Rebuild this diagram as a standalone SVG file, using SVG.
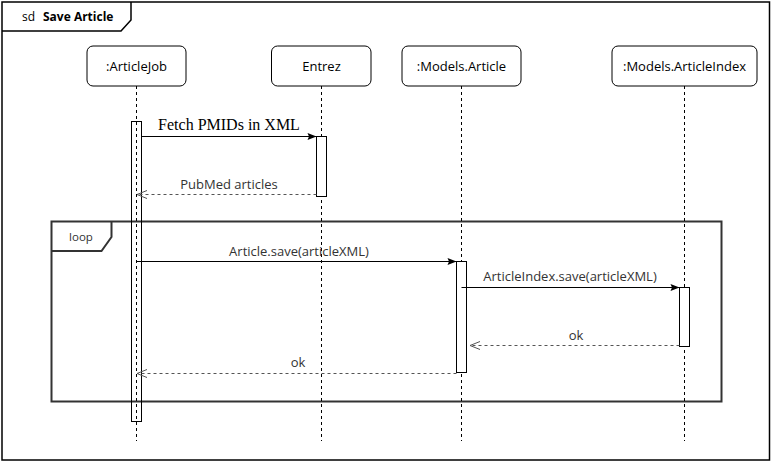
<svg xmlns="http://www.w3.org/2000/svg" width="772" height="462" viewBox="0 0 772 462">
<style>
text{font-family:"Open Sans","Liberation Sans",sans-serif;font-size:13px;fill:#333;}
.head rect{fill:#fff;stroke:#000;stroke-width:1;}
.head text{text-anchor:middle;fill:#000;}
.life{stroke:#000;stroke-width:1;stroke-dasharray:3,3;fill:none;}
.act{fill:#fff;stroke:#000;stroke-width:1;}
.msg{stroke:#000;stroke-width:1;fill:none;}
.ret{stroke:#555;stroke-width:1;stroke-dasharray:3,3;fill:none;}
.lbl{text-anchor:middle;}
</style>
<defs>
<marker id="filled" viewBox="0 0 10 10" refX="10" refY="5" markerWidth="10" markerHeight="10" markerUnits="userSpaceOnUse" orient="auto">
<path d="M1,1.5 L10,5 L1,8.5 L2.5,5 Z" fill="#000"/>
</marker>
<marker id="open" viewBox="0 0 10 10" refX="10" refY="5" markerWidth="10" markerHeight="10" markerUnits="userSpaceOnUse" orient="auto">
<path d="M0,1 L10,5 L0,9" fill="none" stroke="#555" stroke-width="1"/>
</marker>
</defs>
<rect x="0" y="0" width="772" height="462" fill="#fff"/>
<g id="frame">
<rect x="2" y="2" width="767.5" height="458" fill="none" stroke="#000" stroke-width="1.5"/>
<path d="M2,31 L121,31 L131,20 L131,2" fill="none" stroke="#000" stroke-width="1.5"/>
<text x="22" y="21" style="fill:#000;font-size:12px">sd</text>
<text x="43" y="21" style="fill:#000;font-weight:bold;font-size:12px">Save Article</text>
</g>
<g id="loop">
<rect x="51.5" y="221.5" width="670" height="180" fill="none" stroke="#333" stroke-width="2"/>
<path d="M51.5,251 L101.5,251 L111.5,237 L111.5,221.5" fill="none" stroke="#333" stroke-width="2"/>
<text x="81" y="241" class="lbl" style="font-size:11.5px">loop</text>
</g>
<g id="lifelines">
<line class="life" x1="136.5" y1="86" x2="136.5" y2="441"/>
<line class="life" x1="321.5" y1="86" x2="321.5" y2="441"/>
<line class="life" x1="461.5" y1="86" x2="461.5" y2="441"/>
<line class="life" x1="684.5" y1="86" x2="684.5" y2="441"/>
</g>
<g id="ArticleJob" class="head">
<rect x="87" y="46" width="99" height="40" rx="6"/>
<text x="136.5" y="71">:ArticleJob</text>
</g>
<g id="Entrez" class="head">
<rect x="271.5" y="46" width="99.5" height="40" rx="6"/>
<text x="321.5" y="71">Entrez</text>
</g>
<g id="ModelsArticle" class="head">
<rect x="402" y="46" width="119" height="40" rx="6"/>
<text x="461.5" y="71">:Models.Article</text>
</g>
<g id="ModelsArticleIndex" class="head">
<rect x="612" y="46" width="145" height="40" rx="6"/>
<text x="684.5" y="71">:Models.ArticleIndex</text>
</g>
<g id="activations">
<rect x="131.5" y="121.5" width="10" height="300" fill="none" stroke="#000"/>
<rect class="act" x="316.5" y="136.5" width="10" height="60"/>
<rect class="act" x="456.5" y="261.5" width="10" height="111"/>
<rect class="act" x="679.5" y="287.5" width="10" height="59"/>
</g>
<g id="connectors">
<line class="msg" x1="141.5" y1="136.5" x2="316.5" y2="136.5" marker-end="url(#filled)"/>
<line class="ret" x1="316.5" y1="194.5" x2="137" y2="194.5" marker-end="url(#open)"/>
<line class="msg" x1="136.5" y1="261.5" x2="456.5" y2="261.5" marker-end="url(#filled)"/>
<line class="msg" x1="461.5" y1="287.5" x2="679.5" y2="287.5" marker-end="url(#filled)"/>
<line class="ret" x1="679.5" y1="345.5" x2="470" y2="345.5" marker-end="url(#open)"/>
<line class="ret" x1="456.5" y1="373.5" x2="137" y2="373.5" marker-end="url(#open)"/>
</g>
<g id="labels">
<text x="229" y="130" class="lbl" style="font-family:'Liberation Serif',serif;font-size:16px;fill:#000">Fetch PMIDs in XML</text>
<text x="229" y="189" class="lbl">PubMed articles</text>
<text x="299" y="256" class="lbl">Article.save(articleXML)</text>
<text x="570" y="281" class="lbl">ArticleIndex.save(articleXML)</text>
<text x="576" y="340" class="lbl">ok</text>
<text x="298" y="367" class="lbl">ok</text>
</g>
</svg>
